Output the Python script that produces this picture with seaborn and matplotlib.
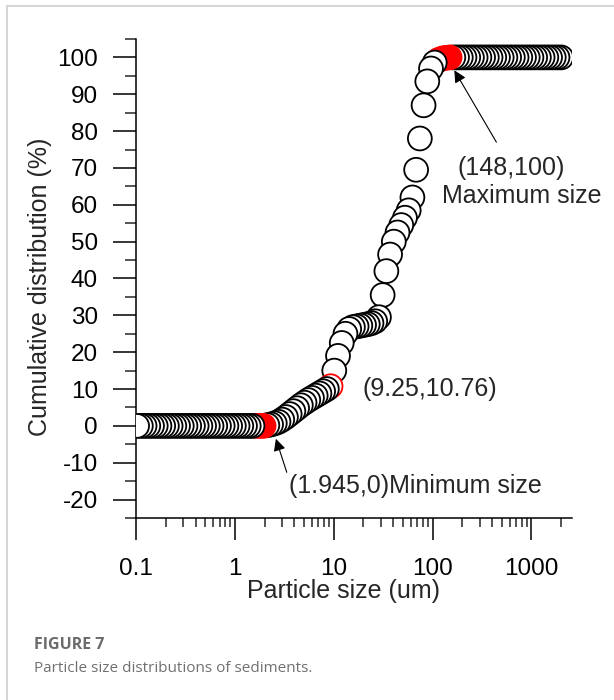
import numpy as np
import pandas as pd
import matplotlib
matplotlib.use("Agg")
import matplotlib.pyplot as plt
from matplotlib.ticker import FixedLocator, FixedFormatter, LogLocator, NullFormatter
from matplotlib.lines import Line2D
import seaborn as sns

# ---------------- data ----------------
particle_size = [
    0.1026, 0.1119, 0.1221,
    0.1331, 0.1452, 0.1583, 0.1726, 0.1883, 0.2053, 0.2239, 0.2441,
    0.2662, 0.2903, 0.3166, 0.3453, 0.3765, 0.4106, 0.4478, 0.4883,
    0.5325, 0.5807, 0.6332, 0.6905, 0.7530, 0.8212, 0.8955, 0.9766,
    1.065, 1.161, 1.266, 1.381, 1.506, 1.642, 1.791, 1.953,
    2.130, 2.323, 2.533, 2.762, 3.012, 3.285, 3.582, 3.906,
    4.260, 4.645, 5.066, 5.524, 6.024, 6.570, 7.164, 7.813,
    8.520, 9.291, 10.13, 11.05, 12.05, 13.14, 14.33, 15.63,
    17.04, 18.58, 20.26, 22.10, 24.10, 26.28, 28.66, 31.25,
    34.08, 37.16, 40.53, 44.19, 48.19, 52.56, 57.31, 62.50,
    68.16, 74.33, 81.05, 88.39, 96.39, 105.1, 114.6, 125.0,
    136.3, 148.7, 162.1, 176.8, 192.8, 210.2, 229.3, 250.0,
    272.6, 297.3, 324.2, 353.6, 385.6, 420.4, 458.5, 500.0,
    545.3, 594.6, 648.4, 707.1, 771.1, 840.9, 917.0, 1000.0,
    1090.5, 1189.2, 1296.8, 1414.2, 1542.2, 1681.8, 1834.0, 2000.0,
]
cumulative = (
    [0.0] * 35
    + [0.2, 0.4, 0.7, 1.1, 1.7, 2.4, 3.2, 4.0,
       4.8, 5.6, 6.3, 7.0, 7.6, 8.2, 8.8, 9.4,
       10.0, 10.76]
    + [15.0, 19.0, 22.5, 25.0, 26.3, 26.8, 27.0, 27.2,
       27.4, 27.6, 27.9, 28.4, 29.5, 35.5, 42.0, 46.5,
       50.0, 52.5, 54.5, 56.5, 58.5, 62.0, 69.5, 78.0,
       87.0, 93.5, 97.0, 98.6, 99.3, 99.7, 99.9, 100.0]
    + [100.0] * 30
)

min_point = (1.945, 0)
mid_point = (9.25, 10.76)
max_point = (148, 100)

y_ticks = [-20, -10, 0, 10, 20, 30, 40, 50, 60, 70, 80, 90, 100]
y_tick_labels = ["-20", "-10", "0", "10", "20", "30", "40", "50", "60", "70", "80", "90", "100"]
x_ticks = [0.1, 1, 10, 100, 1000]
x_tick_labels = ["0.1", "1", "10", "100", "1000"]

# ---------------- style ----------------
sns.set_style("ticks")
plt.rcParams["font.family"] = ["Liberation Sans", "DejaVu Sans"]
plt.rcParams["axes.unicode_minus"] = False

FS = 18
fig = plt.figure(figsize=(6.14, 7.0), dpi=100)
ax = fig.add_axes([0.2215, 0.26, 0.931 - 0.2215, 0.9443 - 0.26])

df = pd.DataFrame({"size": particle_size, "cum": cumulative})
x = np.array(particle_size)

face = np.array(["white"] * len(x), dtype=object)
edge = np.array(["black"] * len(x), dtype=object)
# highlighted points (red)
band_min = (x >= min_point[0] / 1.2) & (x <= min_point[0] * 1.01)
band_max = (x >= max_point[0] / 1.32) & (x <= max_point[0] * 1.01)
face[band_min | band_max] = "red"
edge[band_min | band_max] = "red"
mid_idx = int(np.argmin(np.abs(np.log(x) - np.log(mid_point[0]))))
edge[mid_idx] = "red"

# draw largest sizes first so smaller sizes sit on top
order = np.argsort(-x)
df_draw = df.iloc[order].reset_index(drop=True)
sns.scatterplot(data=df_draw, x="size", y="cum", s=295, marker="o",
                color="white", edgecolor="black", linewidth=1.3, ax=ax,
                legend=False, zorder=3)
coll = ax.collections[0]
coll.set_facecolors(list(face[order]))
coll.set_edgecolors(list(edge[order]))

ax.set_xscale("log")
ax.set_xlim(0.1, 2550)
ax.set_ylim(-25, 105)

ax.xaxis.set_major_locator(FixedLocator(x_ticks))
ax.xaxis.set_major_formatter(FixedFormatter(x_tick_labels))
ax.xaxis.set_minor_locator(LogLocator(base=10, subs=np.arange(2, 10)))
ax.xaxis.set_minor_formatter(NullFormatter())
ax.yaxis.set_major_locator(FixedLocator(y_ticks))
ax.yaxis.set_major_formatter(FixedFormatter(y_tick_labels))
ax.yaxis.set_minor_locator(FixedLocator([-25, -15, -5, 5, 15, 25, 35, 45, 55, 65, 75, 85, 95, 105]))

for sp in ["top", "right"]:
    ax.spines[sp].set_visible(False)
for sp in ["left", "bottom"]:
    ax.spines[sp].set_linewidth(1.1)
    ax.spines[sp].set_color("black")

ax.tick_params(axis="x", which="major", direction="out", length=16, width=1.1,
               labelsize=17.5, pad=13, colors="black")
ax.tick_params(axis="x", which="minor", direction="out", length=6.5, width=1.1)
ax.tick_params(axis="y", which="major", direction="out", length=16.5, width=1.1,
               labelsize=17.5, pad=11, colors="black")
ax.tick_params(axis="y", which="minor", direction="out", length=8, width=1.1)

ax.set_xlabel("Particle size (um)", fontsize=FS)
ax.set_ylabel("Cumulative distribution (%)", fontsize=FS)
ax.xaxis.set_label_coords(0.477, -0.127)
ax.yaxis.set_label_coords(-0.193, 0.482)

arrow = dict(arrowstyle="-|>", color="black", lw=0.8, mutation_scale=18,
             shrinkA=0, shrinkB=0)
ax.annotate("", xy=(166, 96.5), xytext=(442, 77), arrowprops=arrow, zorder=5)
ax.text(619, 70.1, "(%g,%g)" % max_point, fontsize=FS, ha="center", va="center")
ax.text(801, 62.5, "Maximum size", fontsize=FS, ha="center", va="center")

ax.text(19.6, 10.0, "(%g,%g)" % mid_point, fontsize=FS, ha="left", va="center")

ax.annotate("", xy=(2.6, -3.5), xytext=(3.35, -12.6), arrowprops=arrow, zorder=5)
ax.text(3.55, -16.4, "(%g,%g)Minimum size" % min_point, fontsize=FS,
        ha="left", va="center")

# caption
fig.text(34 / 614, 1 - 645 / 700, "FIGURE 7", fontsize=11.5, fontweight="bold",
         color="#6b6b6b", family=["Open Sans", "DejaVu Sans"], ha="left", va="center")
fig.text(34 / 614, 1 - 668 / 700, "Particle size distributions of sediments.",
         fontsize=11, color="#707070", family=["Open Sans", "DejaVu Sans"],
         ha="left", va="center")

# page frame lines
fig.add_artist(Line2D([6.5 / 614, 6.5 / 614], [0, 1 - 5.5 / 700],
                      transform=fig.transFigure, color="#d4d4d4", lw=1.4))
fig.add_artist(Line2D([6.5 / 614, 1], [1 - 5.5 / 700, 1 - 5.5 / 700],
                      transform=fig.transFigure, color="#d4d4d4", lw=1.4))

fig.savefig("out.png", dpi=100)
